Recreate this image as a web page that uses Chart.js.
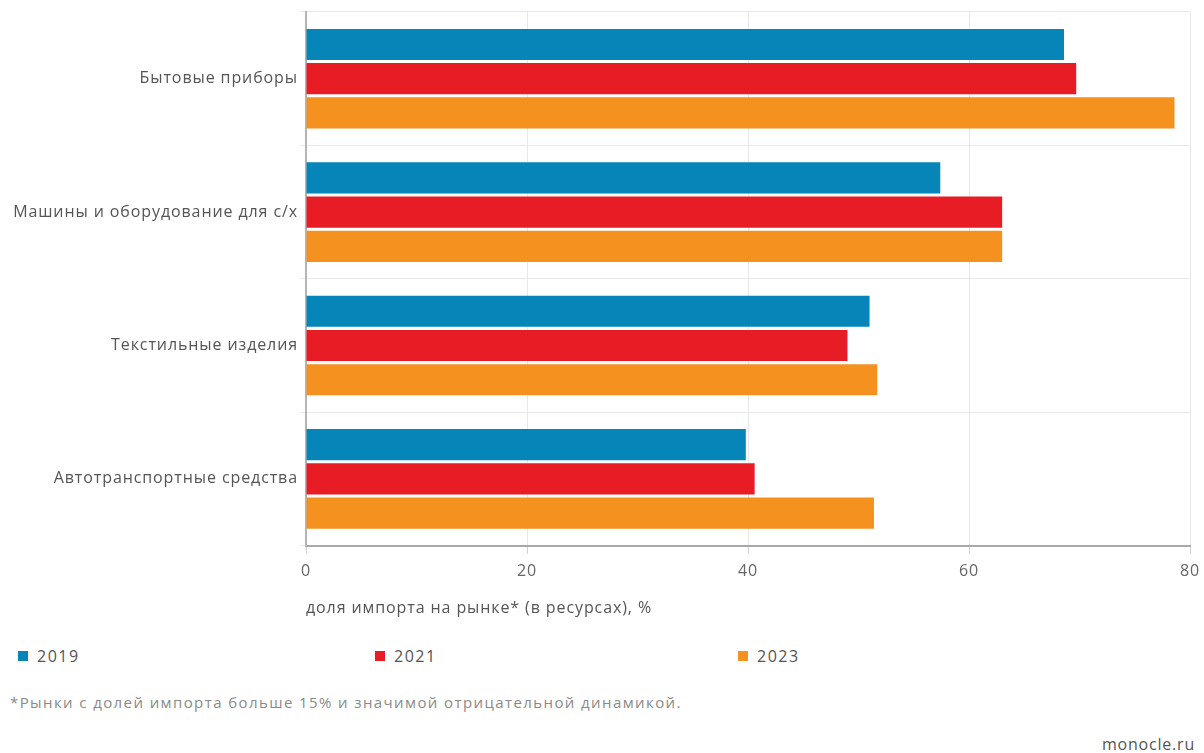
<!DOCTYPE html>
<html>
<head>
<meta charset="utf-8">
<script src="https://cdn.jsdelivr.net/npm/chart.js@4.4.1/dist/chart.umd.min.js"></script>
<style>
  html, body { margin: 0; padding: 0; background: #fff; }
  body { width: 1204px; height: 753px; position: relative; overflow: hidden;
         font-family: "Open Sans", "Noto Sans", sans-serif; color: #555; }
  #wrap { position: absolute; left: 0; top: 0; width: 1204px; height: 618px; }
  .leg { position: absolute; top: 645px; font-size: 16px; letter-spacing: 1.5px; color: #555; display: flex; align-items: center; }
  .leg i { display: inline-block; width: 10px; height: 10px; margin-right: 9px; }
  #note { position: absolute; left: 10px; top: 692px; font-size: 15px; letter-spacing: 1.4px; color: #8a8a8a; }
  #src { position: absolute; right: 9px; top: 733px; font-size: 16px; letter-spacing: 0.8px; color: #555; }
</style>
</head>
<body>
<div id="wrap"><canvas id="c"></canvas></div>
<div id="legend"></div>
<div id="note">*Рынки с долей импорта больше 15% и значимой отрицательной динамикой.</div>
<div id="src">monocle.ru</div>
<script>
  const categories = ['Бытовые приборы', 'Машины и оборудование для с/х', 'Текстильные изделия', 'Автотранспортные средства'];
  const years = ['2019', '2021', '2023'];
  const values2019 = [68.6, 57.4, 51.0, 39.8];
  const values2021 = [69.7, 63.0, 49.0, 40.6];
  const values2023 = [78.6, 63.0, 51.7, 51.4];
  const xTicks = [0, 20, 40, 60, 80];
  const colors = ['#0585b8', '#e81c25', '#f5921f'];
  const legendX = [18, 375, 738];

  const series = [values2019, values2021, values2023];
  const FONT = '"Open Sans", "Noto Sans", sans-serif';

  // the original font is wider than Open Sans, so spread the letters a bit
  const spacing = {
    id: 'spacing',
    beforeLayout: (chart) => { chart.ctx.letterSpacing = '0.9px'; },
    beforeDraw: (chart) => { chart.ctx.letterSpacing = '0.9px'; }
  };

  new Chart(document.getElementById('c'), {
    type: 'bar',
    data: {
      labels: categories,
      datasets: series.map((vals, i) => ({
        label: years[i],
        data: vals,
        backgroundColor: colors[i],
        borderWidth: 0,
        barPercentage: 0.91,
        categoryPercentage: 0.77
      }))
    },
    options: {
      indexAxis: 'y',
      responsive: true,
      maintainAspectRatio: false,
      animation: false,
      layout: { padding: { top: 12, right: 14, left: 0, bottom: 0 } },
      plugins: { legend: { display: false }, tooltip: { enabled: false } },
      scales: {
        x: {
          min: 0, max: 80,
          afterBuildTicks: (s) => { s.ticks = xTicks.map(v => ({ value: v })); },
          afterFit: (s) => { s.paddingRight = 0; },
          grid: { color: '#e8e8e8', tickLength: 8, tickColor: '#d0d0d0' },
          border: { color: '#a8a8a8', width: 2 },
          ticks: { color: '#666', font: { family: FONT, size: 16 }, padding: 8 },
          title: {
            display: true, align: 'start',
            text: 'доля импорта на рынке* (в ресурсах), %',
            color: '#555', font: { family: FONT, size: 16 },
            padding: { top: 10, bottom: 0 }
          }
        },
        y: {
          afterFit: (s) => { s.width = 306; },
          grid: { color: '#e8e8e8', tickLength: 6 },
          border: { color: '#b5b5b5', width: 2 },
          ticks: { color: '#555', font: { family: FONT, size: 16 }, padding: 2 }
        }
      }
    },
    plugins: [spacing]
  });

  const legend = document.getElementById('legend');
  years.forEach((y, i) => {
    const d = document.createElement('div');
    d.className = 'leg';
    d.style.left = legendX[i] + 'px';
    d.innerHTML = '<i style="background:' + colors[i] + '"></i>' + y;
    legend.appendChild(d);
  });
</script>
</body>
</html>
